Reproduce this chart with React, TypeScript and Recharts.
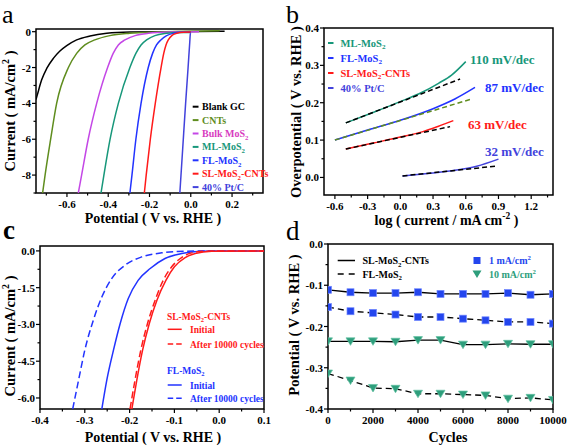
import React from 'react';
import { LineChart, Line, XAxis, YAxis, ReferenceArea } from 'recharts';

const W = 567;
const H = 446;
const SERIF = '"Liberation Serif", "Times New Roman", Times, serif';
const INK = '#000';

type Pt = [number, number];
type Seg = [string, 'n' | 'sub' | 'sup'];
type Box = { l: number; t: number; r: number; b: number };

// colours used across the figure
const C_OLIVE = '#5f8d1e';
const C_PURPLE = '#c447e6';
const C_PINK = '#d83cbf';
const C_TEAL = '#17977a';
const C_BLUE = '#2233ff';
const C_RED = '#ff1a1a';
const C_PT = '#4242dc';
const C_SQ = '#2446ee';
const C_TRI = '#2e9e7c';

// ---- panel a: polarization curves (potential V vs RHE, current mA/cm2)
const blankGC: Pt[] = [[-0.75, -3.78], [-0.744, -3.54], [-0.723, -2.7], [-0.698, -2.05], [-0.666, -1.49], [-0.634, -1.08], [-0.601, -0.78], [-0.553, -0.46], [-0.488, -0.24], [-0.407, -0.09], [-0.295, -0.02], [-0.1, 0.0], [0.164, 0.02]];
const cnts: Pt[] = [[-0.718, -9], [-0.706, -8], [-0.679, -6], [-0.65, -4], [-0.593, -2], [-0.553, -1.21], [-0.513, -0.74], [-0.465, -0.46], [-0.392, -0.22], [-0.295, -0.09], [-0.166, -0.02], [0.0, 0.02], [0.141, 0.06]];
const bulkMoS2: Pt[] = [[-0.545, -9], [-0.529, -8], [-0.497, -6], [-0.456, -4], [-0.403, -2], [-0.376, -1.21], [-0.351, -0.74], [-0.319, -0.46], [-0.27, -0.22], [-0.206, -0.09], [-0.101, -0.02], [0.04, 0.0]];
const mlMoS2: Pt[] = [[-0.435, -9], [-0.421, -8], [-0.391, -6], [-0.351, -4], [-0.295, -2], [-0.266, -1.21], [-0.241, -0.74], [-0.214, -0.46], [-0.174, -0.22], [-0.117, -0.09], [-0.053, -0.04], [0.0, -0.05]];
const flMoS2: Pt[] = [[-0.295, -9], [-0.285, -8], [-0.266, -6], [-0.241, -4], [-0.206, -2], [-0.185, -1.21], [-0.166, -0.74], [-0.145, -0.46], [-0.117, -0.22], [-0.085, -0.09], [-0.045, -0.03], [0.0, -0.03]];
const slMoS2: Pt[] = [[-0.225, -9], [-0.216, -8], [-0.196, -6], [-0.172, -4], [-0.144, -2], [-0.131, -1.21], [-0.12, -0.74], [-0.109, -0.46], [-0.092, -0.22], [-0.068, -0.09], [-0.036, -0.03], [0.0, -0.02]];
const ptC: Pt[] = [[-0.053, -9], [-0.039, -6.5], [-0.025, -4], [-0.013, -2], [-0.005, -0.6], [-0.002, -0.12], [0.0, -0.08]];

const aXTicks = [-0.7, -0.6, -0.5, -0.4, -0.3, -0.2, -0.1, 0, 0.1, 0.2, 0.3];
const aXMajor = [-0.6, -0.4, -0.2, 0, 0.2];
const aYTicks = [-9, -8, -7, -6, -5, -4, -3, -2, -1, 0];
const aYMajor = [-8, -6, -4, -2, 0];

// ---- panel b: Tafel plots (log current, overpotential V)
const tafelML: Pt[] = [[-0.5, 0.146], [-0.25, 0.174], [0.0, 0.203], [0.2, 0.228], [0.35, 0.252], [0.47, 0.274], [0.6, 0.31]];
const tafelFL: Pt[] = [[-0.6, 0.1], [-0.3, 0.127], [0.0, 0.153], [0.3, 0.184], [0.5, 0.21], [0.685, 0.241]];
const tafelSL: Pt[] = [[-0.5, 0.076], [-0.25, 0.092], [0.0, 0.108], [0.2, 0.122], [0.35, 0.137], [0.486, 0.152]];
const tafelPt: Pt[] = [[0.02, 0.004], [0.3, 0.012], [0.5, 0.019], [0.7, 0.03], [0.9, 0.049]];
const fitML: Pt[] = [[-0.5, 0.146], [0.548, 0.2635]];
const fitFL: Pt[] = [[-0.6, 0.1], [0.655, 0.21]];
const fitSL: Pt[] = [[-0.5, 0.076], [0.456, 0.136]];
const fitPt: Pt[] = [[0.02, 0.004], [0.869, 0.03]];

const bXTicks = [-0.6, -0.45, -0.3, -0.15, 0, 0.15, 0.3, 0.45, 0.6, 0.75, 0.9, 1.05, 1.2, 1.35];
const bXMajor = [-0.6, -0.3, 0, 0.3, 0.6, 0.9, 1.2];
const bYTicks = [0, 0.05, 0.1, 0.15, 0.2, 0.25, 0.3, 0.35, 0.4];
const bYMajor = [0, 0.1, 0.2, 0.3, 0.4];
const slopeLabels = ['110 mV/dec', '87 mV/dec', '63 mV/dec', '32 mV/dec'];

// ---- panel c: stability polarization curves
const slInitial: Pt[] = [[-0.195, -6.45], [-0.184, -5.28], [-0.171, -4.05], [-0.156, -2.96], [-0.139, -2.01], [-0.119, -1.2], [-0.1, -0.65], [-0.076, -0.27], [-0.054, -0.11], [-0.017, -0.01], [0.1, 0.0]];
const slAfter: Pt[] = [[-0.199, -6.45], [-0.188, -5.28], [-0.175, -4.05], [-0.16, -2.96], [-0.143, -2.01], [-0.125, -1.2], [-0.106, -0.65], [-0.084, -0.27], [-0.061, -0.08], [-0.025, -0.01], [0.1, 0.0]];
const flInitial: Pt[] = [[-0.262, -6.45], [-0.251, -5.28], [-0.236, -4.05], [-0.221, -2.96], [-0.203, -1.94], [-0.181, -1.2], [-0.154, -0.72], [-0.121, -0.31], [-0.084, -0.11], [-0.039, -0.015], [0.0, 0.0], [0.1, 0.0]];
const flAfter: Pt[] = [[-0.327, -6.45], [-0.314, -5.28], [-0.3, -4.05], [-0.281, -2.83], [-0.262, -1.88], [-0.24, -1.13], [-0.21, -0.58], [-0.173, -0.245], [-0.128, -0.08], [-0.076, -0.012], [0.0, 0.0], [0.1, 0.0]];

const cXTicks = [-0.4, -0.35, -0.3, -0.25, -0.2, -0.15, -0.1, -0.05, 0, 0.05, 0.1];
const cXMajor = [-0.4, -0.3, -0.2, -0.1, 0, 0.1];
const cYTicks = [0, -0.75, -1.5, -2.25, -3, -3.75, -4.5, -5.25, -6];
const cYMajor = [0, -1.5, -3, -4.5, -6];

// ---- panel d: potential at 1 and 10 mA/cm2 vs cycles
const cycles = [0, 1000, 2000, 3000, 4000, 5000, 6000, 7000, 8000, 9000, 10000];
const slAt1 = [-0.111, -0.117, -0.119, -0.119, -0.117, -0.121, -0.121, -0.121, -0.119, -0.123, -0.121];
const flAt1 = [-0.153, -0.163, -0.167, -0.171, -0.177, -0.177, -0.181, -0.185, -0.189, -0.189, -0.193];
const slAt10 = [-0.236, -0.236, -0.236, -0.237, -0.233, -0.233, -0.244, -0.244, -0.242, -0.243, -0.243];
const flAt10 = [-0.314, -0.331, -0.349, -0.351, -0.363, -0.363, -0.365, -0.367, -0.375, -0.373, -0.378];

const dXTicks = [0, 1000, 2000, 3000, 4000, 5000, 6000, 7000, 8000, 9000, 10000];
const dXMajor = [0, 2000, 4000, 6000, 8000, 10000];
const dYTicks = [0, -0.05, -0.1, -0.15, -0.2, -0.25, -0.3, -0.35, -0.4];
const dYMajor = [0, -0.1, -0.2, -0.3, -0.4];

// legend texts
const legendA: { segs: Seg[]; color: string; text: string }[] = [
  { segs: [['Blank GC', 'n']], color: '#000', text: '#000' },
  { segs: [['CNTs', 'n']], color: C_OLIVE, text: C_OLIVE },
  { segs: [['Bulk MoS', 'n'], ['2', 'sub']], color: C_PURPLE, text: C_PINK },
  { segs: [['ML-MoS', 'n'], ['2', 'sub']], color: C_TEAL, text: C_TEAL },
  { segs: [['FL-MoS', 'n'], ['2', 'sub']], color: C_BLUE, text: C_BLUE },
  { segs: [['SL-MoS', 'n'], ['2', 'sub'], ['-CNTs', 'n']], color: C_RED, text: C_RED },
  { segs: [['40% Pt/C', 'n']], color: C_PT, text: C_PT },
];
const legendB: { segs: Seg[]; color: string }[] = [
  { segs: [['ML-MoS', 'n'], ['2', 'sub']], color: C_TEAL },
  { segs: [['FL-MoS', 'n'], ['2', 'sub']], color: C_BLUE },
  { segs: [['SL-MoS', 'n'], ['2', 'sub'], ['-CNTs', 'n']], color: C_RED },
  { segs: [['40% Pt/C', 'n']], color: C_PT },
];

const rows = (pts: Pt[]) => pts.map(([x, y]) => ({ x, y }));
const series = (xs: number[], ys: number[]) => xs.map((x, i) => ({ x, y: ys[i] }));

function Rich(props: { segs: Seg[]; x: number; y: number; fs: number; fill?: string; anchor?: 'start' | 'middle' | 'end'; weight?: string; rotate?: boolean }) {
  const { segs, x, y, fs, fill = INK, anchor = 'start', weight = 'bold', rotate = false } = props;
  let cur = 0;
  return (
    <text x={x} y={y} fontSize={fs} fontFamily={SERIF} fontWeight={weight} fill={fill} textAnchor={anchor}
      transform={rotate ? `rotate(-90 ${x} ${y})` : undefined}>
      {segs.map(([s, k], i) => {
        const off = k === 'sub' ? fs * 0.28 : k === 'sup' ? -fs * 0.38 : 0;
        const dy = off - cur;
        cur = off;
        return <tspan key={i} dy={dy} fontSize={k === 'n' ? fs : fs * 0.68}>{s}</tspan>;
      })}
    </text>
  );
}

const tickMaker = (side: 'x' | 'y', major: number[], fmt: (v: number) => string) => (p: any) => {
  const v = p.payload.value;
  const big = major.some((m) => Math.abs(m - v) < 1e-9);
  const len = big ? 4 : 2.5;
  if (side === 'x') {
    return (
      <g key={`x${p.index}`}>
        <line x1={p.x} x2={p.x} y1={p.y} y2={p.y + len} stroke={INK} strokeWidth={1.2} />
        {big && <text x={p.x} y={p.y + 15} textAnchor="middle" fontSize={11} fontWeight="bold" fontFamily={SERIF} fill={INK}>{fmt(v)}</text>}
      </g>
    );
  }
  return (
    <g key={`y${p.index}`}>
      <line x1={p.x} x2={p.x - len} y1={p.y} y2={p.y} stroke={INK} strokeWidth={1.2} />
      {big && <text x={p.x - 5} y={p.y + 4} textAnchor="end" fontSize={11} fontWeight="bold" fontFamily={SERIF} fill={INK}>{fmt(v)}</text>}
    </g>
  );
};

type PanelProps = {
  box: Box;
  xDomain: [number, number];
  yDomain: [number, number];
  xTicks: number[];
  xMajor: number[];
  xFmt: (v: number) => string;
  yTicks: number[];
  yMajor: number[];
  yFmt: (v: number) => string;
  xTitle: Seg[];
  yTitle: Seg[];
  xTitleAt: [number, number];
  yTitleAt: [number, number];
  children: React.ReactNode;
};

function Panel(p: PanelProps) {
  const YW = 30;
  const XH = 30;
  return (
    <div style={{ position: 'absolute', left: 0, top: 0 }}>
      <LineChart width={W} height={H} margin={{ top: p.box.t, left: p.box.l - YW, right: W - p.box.r, bottom: H - p.box.b - XH }}>
        <XAxis dataKey="x" type="number" domain={p.xDomain} allowDataOverflow ticks={p.xTicks} interval={0}
          tickSize={0} tickMargin={0} tickLine={false} axisLine={false} height={XH}
          tick={tickMaker('x', p.xMajor, p.xFmt)}
          label={() => <Rich segs={p.xTitle} x={p.xTitleAt[0]} y={p.xTitleAt[1]} fs={14} anchor="middle" />} />
        <YAxis type="number" domain={p.yDomain} allowDataOverflow ticks={p.yTicks} interval={0}
          tickSize={0} tickMargin={0} tickLine={false} axisLine={false} width={YW}
          tick={tickMaker('y', p.yMajor, p.yFmt)}
          label={() => <Rich segs={p.yTitle} x={p.yTitleAt[0]} y={p.yTitleAt[1]} fs={14.5} anchor="middle" rotate />} />
        <ReferenceArea x1={p.xDomain[0]} x2={p.xDomain[1]} y1={p.yDomain[0]} y2={p.yDomain[1]}
          fill="none" stroke={INK} strokeWidth={1.5} ifOverflow="visible" />
        {p.children}
      </LineChart>
    </div>
  );
}

const squareDot = (p: any) => (
  <rect key={`s${p.index}`} x={p.cx - 3.5} y={p.cy - 3.5} width={7} height={7} fill={C_SQ} stroke="#6f86ff" strokeWidth={0.7} />
);
const triangleDot = (p: any) => (
  <polygon key={`t${p.index}`} points={`${p.cx - 4.5},${p.cy - 3.5} ${p.cx + 4.5},${p.cy - 3.5} ${p.cx},${p.cy + 4}`}
    fill={C_TRI} stroke="#62c2a2" strokeWidth={0.7} />
);

const fx1 = (v: number) => v.toFixed(1);
const fxInt = (v: number) => String(v);
const mAcm2: Seg[] = [['Current ( mA/cm', 'n'], ['2', 'sup'], [' )', 'n']];
const potTitle: Seg[] = [['Potential ( V vs. RHE )', 'n']];

const App: React.FC = () => {
  const curve = (pts: Pt[], color: string, dash?: string, w = 1.5) => (
    <Line data={rows(pts)} dataKey="y" type="monotone" stroke={color} strokeWidth={w} strokeDasharray={dash}
      dot={false} isAnimationActive={false} />
  );
  const straight = (pts: Pt[], color: string, dash?: string) => (
    <Line data={rows(pts)} dataKey="y" type="linear" stroke={color} strokeWidth={1.5} strokeDasharray={dash}
      dot={false} isAnimationActive={false} />
  );

  return (
    <div style={{ position: 'absolute', left: 0, top: 0, width: W, height: H, background: '#fff', overflow: 'hidden' }}>
      {/* a */}
      <Panel box={{ l: 36, t: 29, r: 263, b: 193 }} xDomain={[-0.75, 0.35]} yDomain={[-9, 0.15]}
        xTicks={aXTicks} xMajor={aXMajor} xFmt={fx1} yTicks={aYTicks} yMajor={aYMajor} yFmt={fxInt}
        xTitle={potTitle} yTitle={mAcm2} xTitleAt={[153, 222.5]} yTitleAt={[15, 111]}>
        {curve(blankGC, '#000')}
        {curve(cnts, C_OLIVE)}
        {curve(bulkMoS2, C_PURPLE)}
        {curve(mlMoS2, C_TEAL)}
        {curve(flMoS2, C_BLUE)}
        {curve(slMoS2, C_RED)}
        {curve(ptC, C_PT)}
      </Panel>

      {/* b */}
      <Panel box={{ l: 324, t: 28, r: 553, b: 195 }} xDomain={[-0.7, 1.4]} yDomain={[-0.047, 0.4]}
        xTicks={bXTicks} xMajor={bXMajor} xFmt={fx1} yTicks={bYTicks} yMajor={bYMajor} yFmt={fx1}
        xTitle={[['log ( current / mA cm', 'n'], ['-2', 'sup'], [' )', 'n']]}
        yTitle={[['Overpotential ( V vs. RHE )', 'n']]} xTitleAt={[446.5, 224.5]} yTitleAt={[300.5, 112]}>
        {curve(tafelML, C_TEAL)}
        {curve(tafelFL, C_BLUE)}
        {curve(tafelSL, C_RED)}
        {curve(tafelPt, C_PT)}
        {straight(fitML, '#000', '5 3')}
        {straight(fitFL, C_OLIVE, '5 3')}
        {straight(fitSL, '#000', '5 3')}
        {straight(fitPt, '#000', '5 3')}
      </Panel>

      {/* c */}
      <Panel box={{ l: 40, t: 246, r: 264, b: 409 }} xDomain={[-0.4, 0.1]} yDomain={[-6.45, 0.2]}
        xTicks={cXTicks} xMajor={cXMajor} xFmt={fx1} yTicks={cYTicks} yMajor={cYMajor} yFmt={fx1}
        xTitle={potTitle} yTitle={mAcm2} xTitleAt={[153, 441.5]} yTitleAt={[15, 336]}>
        {curve(flAfter, C_BLUE, '7 3.5')}
        {curve(flInitial, C_BLUE)}
        {curve(slAfter, C_RED, '7 3.5')}
        {curve(slInitial, C_RED)}
      </Panel>

      {/* d */}
      <Panel box={{ l: 328, t: 244, r: 553, b: 409 }} xDomain={[0, 10000]} yDomain={[-0.4, 0]}
        xTicks={dXTicks} xMajor={dXMajor} xFmt={fxInt} yTicks={dYTicks} yMajor={dYMajor} yFmt={fx1}
        xTitle={[['Cycles', 'n']]} yTitle={potTitle} xTitleAt={[448, 441.5]} yTitleAt={[299, 325]}>
        <Line data={series(cycles, slAt1)} dataKey="y" type="linear" stroke="#000" strokeWidth={1.3} dot={squareDot} isAnimationActive={false} />
        <Line data={series(cycles, flAt1)} dataKey="y" type="linear" stroke="#000" strokeWidth={1.3} strokeDasharray="6 4" dot={squareDot} isAnimationActive={false} />
        <Line data={series(cycles, slAt10)} dataKey="y" type="linear" stroke="#000" strokeWidth={1.3} dot={triangleDot} isAnimationActive={false} />
        <Line data={series(cycles, flAt10)} dataKey="y" type="linear" stroke="#000" strokeWidth={1.3} strokeDasharray="6 4" dot={triangleDot} isAnimationActive={false} />
      </Panel>

      {/* panel letters, legends and annotations */}
      <svg width={W} height={H} style={{ position: 'absolute', left: 0, top: 0, pointerEvents: 'none' }}>
        <text x={2} y={23} fontSize={26} fontFamily={SERIF}>a</text>
        <text x={286} y={23} fontSize={26} fontFamily={SERIF}>b</text>
        <text x={3} y={239} fontSize={27} fontWeight="bold" fontFamily={SERIF}>c</text>
        <text x={286} y={240} fontSize={27} fontFamily={SERIF}>d</text>

        {legendA.map((e, i) => (
          <g key={`la${i}`}>
            <line x1={192.7} x2={198.5} y1={106.7 + i * 13.4} y2={106.7 + i * 13.4} stroke={e.color} strokeWidth={2} />
            <Rich segs={e.segs} x={202} y={110.2 + i * 13.4} fs={10} fill={e.text} />
          </g>
        ))}

        {legendB.map((e, i) => (
          <g key={`lb${i}`}>
            <line x1={328} x2={333.5} y1={43 + i * 15} y2={43 + i * 15} stroke={e.color} strokeWidth={2} />
            <Rich segs={e.segs} x={340.5} y={46.5 + i * 15} fs={10.5} fill={e.color} />
          </g>
        ))}
        <Rich segs={[[slopeLabels[0], 'n']]} x={470} y={64} fs={13} fill={C_TEAL} />
        <Rich segs={[[slopeLabels[1], 'n']]} x={485} y={92} fs={13} fill={C_BLUE} />
        <Rich segs={[[slopeLabels[2], 'n']]} x={468} y={129} fs={13} fill={C_RED} />
        <Rich segs={[[slopeLabels[3], 'n']]} x={485} y={156} fs={13} fill={C_PT} />

        <Rich segs={[['SL-MoS', 'n'], ['2', 'sub'], ['-CNTs', 'n']]} x={167} y={319.5} fs={9.5} fill={C_RED} />
        <line x1={167.7} x2={181.7} y1={329.3} y2={329.3} stroke={C_RED} strokeWidth={1.5} />
        <Rich segs={[['Initial', 'n']]} x={190} y={332.8} fs={9.5} fill={C_RED} />
        <line x1={167.7} x2={181.7} y1={344} y2={344} stroke={C_RED} strokeWidth={1.5} strokeDasharray="5.5 3" />
        <Rich segs={[['After 10000 cycles', 'n']]} x={190} y={347.5} fs={9.5} fill={C_RED} />
        <Rich segs={[['FL-MoS', 'n'], ['2', 'sub']]} x={167} y={373.5} fs={9.5} fill={C_BLUE} />
        <line x1={167.7} x2={181.7} y1={385} y2={385} stroke={C_BLUE} strokeWidth={1.5} />
        <Rich segs={[['Initial', 'n']]} x={190} y={388.5} fs={9.5} fill={C_BLUE} />
        <line x1={167.7} x2={181.7} y1={398.3} y2={398.3} stroke={C_BLUE} strokeWidth={1.5} strokeDasharray="5.5 3" />
        <Rich segs={[['After 10000 cycles', 'n']]} x={190} y={401.8} fs={9.5} fill={C_BLUE} />

        <line x1={337.7} x2={355} y1={260.5} y2={260.5} stroke="#000" strokeWidth={1.5} />
        <Rich segs={[['SL-MoS', 'n'], ['2', 'sub'], ['-CNTs', 'n']]} x={362.5} y={264} fs={10} />
        <line x1={337.7} x2={355} y1={274} y2={274} stroke="#000" strokeWidth={1.5} strokeDasharray="6 5" />
        <Rich segs={[['FL-MoS', 'n'], ['2', 'sub']]} x={362.5} y={277.5} fs={10} />
        <rect x={473.5} y={257} width={7} height={7} fill={C_SQ} />
        <Rich segs={[['1 mA/cm', 'n'], ['2', 'sup']]} x={489} y={264} fs={10} fill={C_SQ} />
        <polygon points="472.5,270.5 481.5,270.5 477,278" fill={C_TRI} />
        <Rich segs={[['10 mA/cm', 'n'], ['2', 'sup']]} x={489} y={277.5} fs={10} fill={C_TRI} />
      </svg>
    </div>
  );
};

export default App;
